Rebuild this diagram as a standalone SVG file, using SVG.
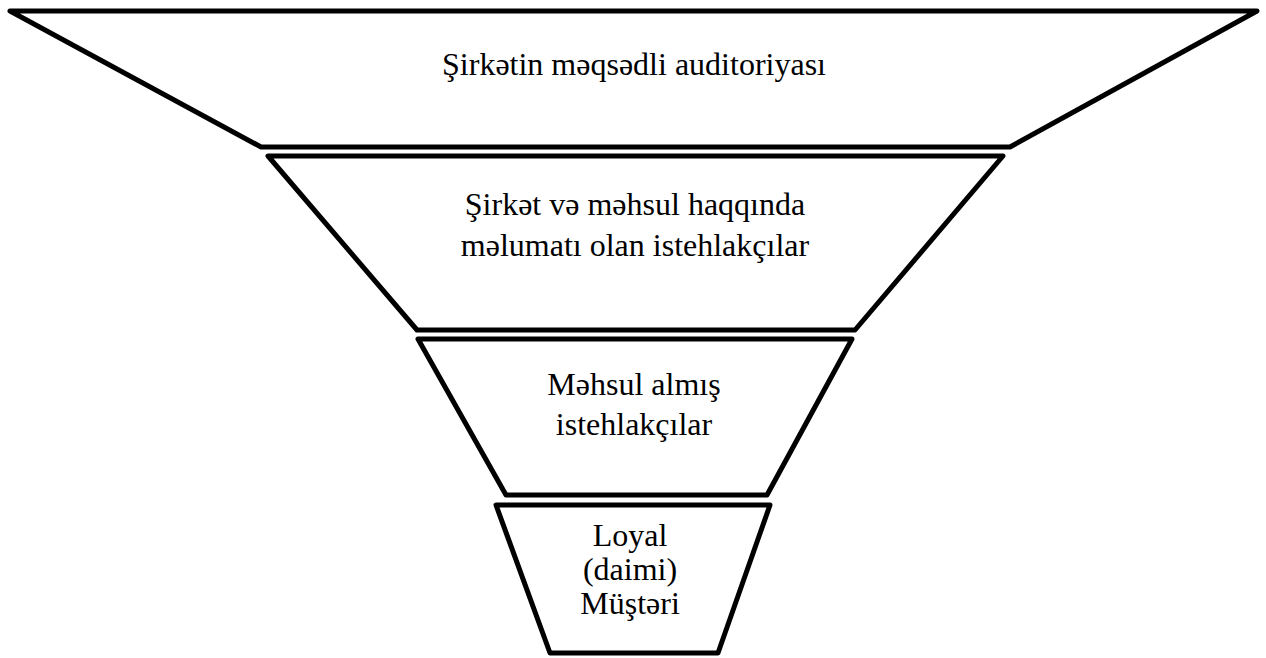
<svg xmlns="http://www.w3.org/2000/svg" width="1266" height="658" viewBox="0 0 1266 658">
<style>
.stage{fill:#fff;stroke:#000;stroke-width:5;stroke-linejoin:round}
.lbl{font-family:"Liberation Serif","Times New Roman",serif;font-size:32px;fill:#000;text-anchor:middle}
</style>
<rect width="1266" height="658" fill="#fff"/>
<g id="stage1">
<polygon class="stage" points="10,11 1257,11 1010,147 261,147"/>
<text class="lbl" x="634" y="75">Şirkətin məqsədli auditoriyası</text>
</g>
<g id="stage2">
<polygon class="stage" points="268,156 1003,156 855,330 417,330"/>
<text class="lbl" x="635" y="215">Şirkət və məhsul haqqında</text>
<text class="lbl" x="635" y="256">məlumatı olan istehlakçılar</text>
</g>
<g id="stage3">
<polygon class="stage" points="418,339 852,339 767,495 506,495"/>
<text class="lbl" x="634" y="395">Məhsul almış</text>
<text class="lbl" x="634" y="435">istehlakçılar</text>
</g>
<g id="stage4">
<polygon class="stage" points="496,505 770,505 718,653 550,653"/>
<text class="lbl" x="630" y="546">Loyal</text>
<text class="lbl" x="630" y="580">(daimi)</text>
<text class="lbl" x="630" y="614">Müştəri</text>
</g>
<g id="connectors"/>
</svg>
